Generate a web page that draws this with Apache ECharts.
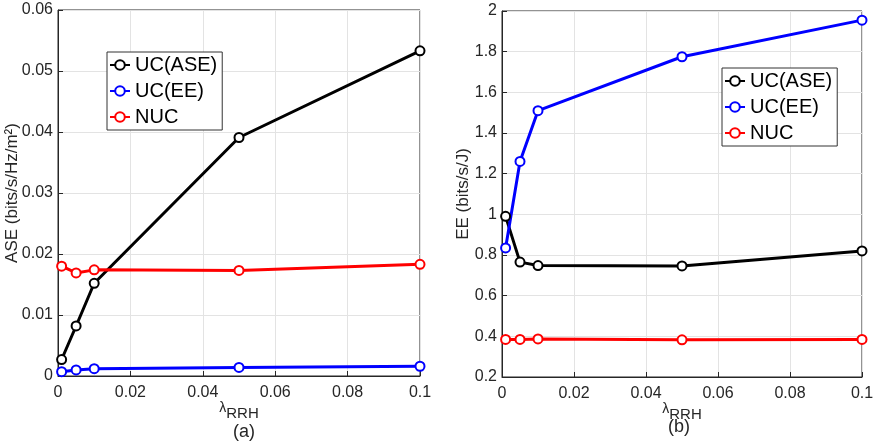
<!DOCTYPE html>
<html>
<head>
  <meta charset="UTF-8">
  <title>ASE / EE vs lambda RRH</title>
  <style>
    html, body { margin: 0; padding: 0; background: #fff; }
    #chart { width: 876px; height: 444px; }
  </style>
  <script src="https://cdn.jsdelivr.net/npm/echarts@6/dist/echarts.min.js"></script>
</head>
<body>
<div id="chart"></div>
<script>
  // values
  var lambdaRRH = [0.001, 0.005, 0.01, 0.05, 0.1];
  var seriesNames = ['UC(ASE)', 'UC(EE)', 'NUC'];
  var seriesColors = ['#000000', '#0000ff', '#ff0000'];

  var aseUcAse = [0.0027, 0.0082, 0.0152, 0.0391, 0.0533];
  var aseUcEe = [0.0007, 0.0010, 0.0012, 0.0014, 0.0016];
  var aseNuc = [0.0180, 0.0169, 0.0174, 0.0173, 0.0183];

  var eeUcAse = [0.99, 0.765, 0.748, 0.746, 0.82];
  var eeUcEe = [0.835, 1.26, 1.51, 1.775, 1.955];
  var eeNuc = [0.385, 0.385, 0.387, 0.383, 0.385];

  var font = 'Liberation Sans, Arial, sans-serif';
  var axisColor = '#262626';

  function pairs(xs, ys) {
    var out = [];
    for (var i = 0; i < xs.length; i++) out.push([xs[i], ys[i]]);
    return out;
  }

  function xAxis(idx) {
    return {
      type: 'value', gridIndex: idx, min: 0, max: 0.1, interval: 0.02,
      name: '{l|λ}{s|RRH}', nameLocation: 'middle', nameGap: 25, nameMoveOverlap: false,
      nameTextStyle: {
        rich: {
          l: { fontFamily: font, fontSize: 14, color: axisColor, lineHeight: 14 },
          s: { fontFamily: font, fontSize: 15, color: axisColor, lineHeight: 15, padding: [10, 0, 0, 0] }
        }
      },
      axisLine: { onZero: false, lineStyle: { color: axisColor, width: 1 } },
      axisTick: { inside: true, length: 5, lineStyle: { color: axisColor } },
      axisLabel: {
        fontFamily: font, fontSize: 16, color: axisColor, margin: 9,
        formatter: function (v) { return String(+v.toFixed(2)); }
      },
      splitLine: { show: true, lineStyle: { color: '#e3e3e3' } }
    };
  }

  function yAxis(idx, min, max, step, name, digits) {
    return {
      type: 'value', gridIndex: idx, min: min, max: max, interval: step,
      name: name, nameLocation: 'middle', nameGap: idx === 0 ? 37 : 30, nameMoveOverlap: false,
      nameTextStyle: { fontFamily: font, fontSize: 17, color: axisColor },
      axisLine: { show: true, lineStyle: { color: axisColor, width: 1 } },
      axisTick: { inside: true, length: 5, lineStyle: { color: axisColor } },
      axisLabel: {
        fontFamily: font, fontSize: 16, color: axisColor, margin: 5,
        formatter: function (v) { return String(+v.toFixed(digits)); }
      },
      splitLine: { show: true, lineStyle: { color: '#e3e3e3' } }
    };
  }

  function line(name, color, idx, data) {
    return {
      name: name, type: 'line', xAxisIndex: idx, yAxisIndex: idx,
      data: data, symbol: 'emptyCircle', symbolSize: 9,
      lineStyle: { color: color, width: 3 },
      itemStyle: { color: color, borderColor: color, borderWidth: 3 },
      animation: false
    };
  }

  var legendText = { fontFamily: font, fontSize: 20, color: '#000' };

  function legend(left, top) {
    return {
      left: left, top: top, orient: 'vertical', itemGap: 6, itemWidth: 20, itemHeight: 12,
      padding: [3, 5, 3, 2], borderColor: '#333', borderWidth: 1, backgroundColor: '#fff',
      textStyle: legendText, itemStyle: { borderWidth: 0 }, data: seriesNames
    };
  }

  var chart = echarts.init(document.getElementById('chart'));
  chart.setOption({
    backgroundColor: '#fff',
    animation: false,
    grid: [
      { left: 58, top: 10, width: 362, height: 366, show: true, borderColor: axisColor, borderWidth: 1,
        outerBoundsMode: 'none', containLabel: false },
      { left: 502, top: 11, width: 360, height: 366, show: true, borderColor: axisColor, borderWidth: 1,
        outerBoundsMode: 'none', containLabel: false }
    ],
    xAxis: [xAxis(0), xAxis(1)],
    yAxis: [
      yAxis(0, 0, 0.06, 0.01, 'ASE (bits/s/Hz/m²)', 2),
      yAxis(1, 0.2, 2, 0.2, 'EE (bits/s/J)', 1)
    ],
    legend: [legend(107, 52), legend(722, 68)],
    graphic: [
      { type: 'text', left: 233, top: 423, style: { text: '(a)', font: '18px ' + font, fill: axisColor } },
      { type: 'text', left: 668, top: 418, style: { text: '(b)', font: '18px ' + font, fill: axisColor } }
    ],
    series: [
      line(seriesNames[0], seriesColors[0], 0, pairs(lambdaRRH, aseUcAse)),
      line(seriesNames[1], seriesColors[1], 0, pairs(lambdaRRH, aseUcEe)),
      line(seriesNames[2], seriesColors[2], 0, pairs(lambdaRRH, aseNuc)),
      line(seriesNames[0], seriesColors[0], 1, pairs(lambdaRRH, eeUcAse)),
      line(seriesNames[1], seriesColors[1], 1, pairs(lambdaRRH, eeUcEe)),
      line(seriesNames[2], seriesColors[2], 1, pairs(lambdaRRH, eeNuc))
    ]
  });
</script>
</body>
</html>
